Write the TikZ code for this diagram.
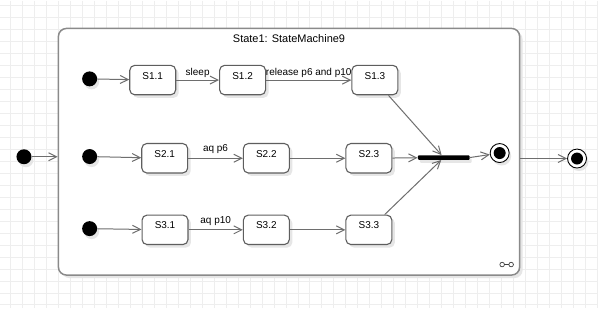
\documentclass[tikz,border=0pt]{standalone}
\usepackage{fontspec}
\setmainfont{Liberation Sans}
\usetikzlibrary{arrows.meta,shadows,calc}
\definecolor{gridgray}{HTML}{EEEEEE}
\definecolor{framegray}{HTML}{8A8A8A}
\definecolor{boxgray}{HTML}{5E5E5E}
\definecolor{linegray}{HTML}{6E6E6E}
\definecolor{shadegray}{HTML}{E6E6E6}
\begin{document}
\begin{tikzpicture}[x=1pt,y=-1pt,
  txt/.style={font=\fontsize{10pt}{12pt}\selectfont},
  gridline/.style={draw=gridgray,line width=1pt},
  frame/.style={draw=framegray,line width=1.5pt,fill=white,rounded corners=8pt,
    minimum width=462pt,minimum height=247pt,inner sep=0pt,
    drop shadow={shadow xshift=3pt,shadow yshift=-3pt,fill=shadegray,opacity=1}},
  umlstate/.style={draw=boxgray,line width=1.1pt,fill=white,rounded corners=5pt,
    minimum width=46pt,minimum height=29.5pt,inner sep=0pt,txt,
    text height=7pt,text depth=9pt,
    drop shadow={shadow xshift=3pt,shadow yshift=-3pt,fill=shadegray,opacity=1}},
  startdot/.style={circle,fill=black,minimum size=15pt,inner sep=0pt,
    drop shadow={shadow xshift=2pt,shadow yshift=-3pt,fill=shadegray,opacity=1}},
  enddot/.style={circle,draw=black,line width=0.9pt,fill=white,minimum size=19pt,inner sep=0pt,
    path picture={\fill[black] (path picture bounding box.center) circle (6pt);},
    drop shadow={shadow xshift=2pt,shadow yshift=-3pt,fill=shadegray,opacity=1}},
  joinbar/.style={rectangle,fill=black,rounded corners=1pt,minimum width=52pt,
    minimum height=4.5pt,inner sep=0pt,
    drop shadow={shadow xshift=2pt,shadow yshift=-3pt,fill=shadegray,opacity=1}},
  conn/.style={draw=linegray,line width=1pt,
    -{Straight Barb[length=8pt,width=8pt,line width=1pt]}},
  lbl/.style={txt,inner sep=1pt}]

% background grid
\fill[white] (0,0) rectangle (598,308);
\foreach \gx in {10,22,...,598} \draw[gridline] (\gx,0) -- (\gx,308);
\foreach \gy in {5,17,...,308} \draw[gridline] (0,\gy) -- (598,\gy);
\useasboundingbox (0,0) rectangle (598,308);

% composite state
\node[frame] (frame) at (289,151.5) {};
\node[font=\fontsize{11pt}{13pt}\selectfont] (title) at (289,38.5) {State1: StateMachine9};
\coordinate (iconA) at (502.5,264.5);
\coordinate (iconB) at (511.5,264.5);
\draw[black!75,line width=0.7pt] (iconA) circle (2.3pt) (iconB) circle (2.3pt);
\draw[black!75,line width=0.7pt] ($(iconA)+(2.3,0)$) -- ($(iconB)+(-2.3,0)$);

% outer pseudo states
\node[startdot] (oi) at (23.5,156.5) {};
\node[enddot] (fo) at (577.5,158.3) {};

% region rows
\node[startdot] (i1) at (89.3,78.5) {};
\node[startdot] (i2) at (89.3,156.3) {};
\node[startdot] (i3) at (89.3,228.5) {};

\node[umlstate] (s11) at (152.5,79.7) {S1.1};
\node[umlstate] (s12) at (242.5,79.7) {S1.2};
\node[umlstate] (s13) at (375,79.7) {S1.3};
\node[umlstate] (s21) at (164.5,158) {S2.1};
\node[umlstate] (s22) at (266.3,158) {S2.2};
\node[umlstate] (s23) at (369,158) {S2.3};
\node[umlstate] (s31) at (164.8,229.7) {S3.1};
\node[umlstate] (s32) at (266.3,229.7) {S3.2};
\node[umlstate] (s33) at (369,229.7) {S3.3};

\node[joinbar] (bar) at (444,157.3) {};
\node[enddot] (fi) at (500,152.8) {};

% transitions
\draw[conn] (oi) -- (oi -| frame.west);
\draw[conn] (fo -| frame.east) -- (fo);

\draw[conn] (i1) -- (s11);
\draw[conn] (s11) -- node[lbl,above=1pt] {sleep} (s12);
\draw[conn] (s12) -- node[lbl,above=1pt] {release p6 and p10} (s13);

\draw[conn] (i2) -- (s21);
\draw[conn] (s21) -- node[lbl,above=3pt] {aq p6} (s22);
\draw[conn] (s22) -- (s23);

\draw[conn] (i3) -- (s31);
\draw[conn] (s31) -- node[lbl,above=3pt] {aq p10} (s32);
\draw[conn] (s32) -- (s33);

\draw[conn] (s13) -- (bar);
\draw[conn] (s23) -- (bar);
\draw[conn] (s33) -- (bar);
\draw[conn] (bar.east) -- (fi);
\end{tikzpicture}
\end{document}
